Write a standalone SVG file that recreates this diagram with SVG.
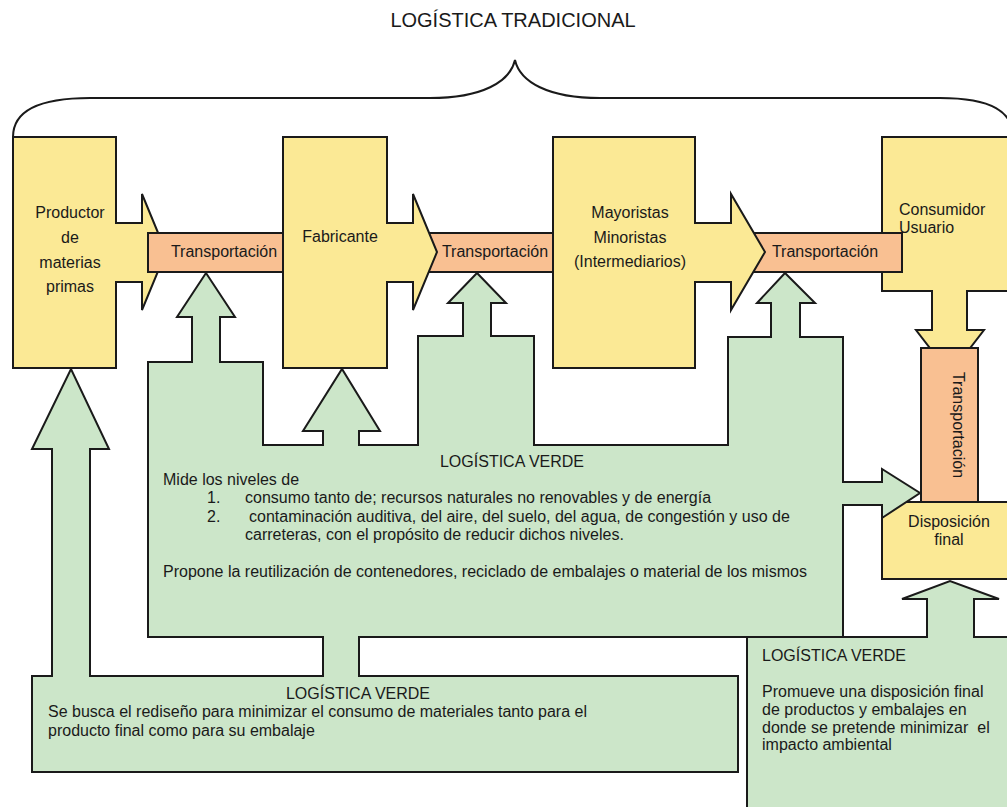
<svg xmlns="http://www.w3.org/2000/svg" width="1007" height="807" viewBox="0 0 1007 807">
<style>
  .y { fill: #FBE995; stroke: #1a1a1a; stroke-width: 2; stroke-linejoin: miter; }
  .o { fill: #F9C092; stroke: #1a1a1a; stroke-width: 2; }
  .g { fill: #CCE6C9; stroke: #1a1a1a; stroke-width: 2; stroke-linejoin: miter; }
  .ln { fill: none; stroke: #1a1a1a; stroke-width: 2; }
  text { font-family: "Liberation Sans", Arial, sans-serif; font-size: 16px; fill: #1a1a1a; }
  .c { text-anchor: middle; }
</style>
<rect x="0" y="0" width="1007" height="807" fill="#ffffff"/>

<g id="titulo">
  <text x="513" y="27" class="c" style="font-size:20px">LOGÍSTICA TRADICIONAL</text>
  <path class="ln" d="M13,137 C13,112 38,98 90,98 L430,98 C482,98 510,82 515,60 C520,82 548,98 600,98 L940,98 C992,98 1013,112 1013,137"/>
</g>

<g id="consumidor">
  <polygon class="y" points="882,137 1012,137 1012,291 967,291 967,330 984,330 950,374 916,330 932,330 932,291 882,291"/>
  <text x="899" y="215">Consumidor</text>
  <text x="899" y="233">Usuario</text>
</g>

<g id="transporte3">
  <rect class="o" x="750" y="233" width="152" height="39"/>
  <text x="825" y="257" class="c">Transportación</text>
</g>

<g id="transporte2">
  <rect class="o" x="425" y="233" width="128" height="39"/>
  <text x="495" y="257" class="c">Transportación</text>
</g>

<g id="productor">
  <polygon class="y" points="13,137 116,137 116,223 142,223 142,194 166,252 142,310 142,282 116,282 116,368 13,368"/>
  <text x="70" y="218" class="c">Productor</text>
  <text x="70" y="243" class="c">de</text>
  <text x="70" y="268" class="c">materias</text>
  <text x="70" y="292" class="c">primas</text>
</g>

<g id="transporte1">
  <rect class="o" x="148" y="233" width="135" height="39"/>
  <text x="224" y="257" class="c">Transportación</text>
</g>

<g id="fabricante">
  <polygon class="y" points="283,137 387,137 387,223 413,223 413,194 437,252 413,310 413,282 387,282 387,368 283,368"/>
  <text x="340" y="242" class="c">Fabricante</text>
</g>

<g id="mayoristas">
  <polygon class="y" points="553,137 695,137 695,223 731,223 731,194 765,252 731,310 731,282 695,282 695,368 553,368"/>
  <text x="630" y="218" class="c">Mayoristas</text>
  <text x="630" y="243" class="c">Minoristas</text>
  <text x="630" y="267" class="c">(Intermediarios)</text>
</g>

<g id="transporte4">
  <rect class="o" x="921" y="348" width="57" height="154"/>
  <text class="c" transform="translate(953,425) rotate(90)" x="0" y="0">Transportación</text>
</g>

<g id="disposicion">
  <rect class="y" x="882" y="502" width="130" height="77"/>
  <text x="949" y="527" class="c">Disposición</text>
  <text x="949" y="545" class="c">final</text>
</g>

<g id="verde-inferior">
  <polygon class="g" points="32,676 52,676 52,449 32,449 71,369 109,449 90,449 90,676 738,676 738,772 32,772"/>
  <text x="358" y="699" class="c">LOGÍSTICA VERDE</text>
  <text x="48" y="717">Se busca el rediseño para minimizar el consumo de materiales tanto para el</text>
  <text x="48" y="736">producto final como para su embalaje</text>
</g>

<g id="verde-central">
  <polygon class="g" points="148,362 192,362 192,317 177,317 206,273 235,317 220,317 220,362 263,362 263,445 323,445 323,431 303,431 342,369 380,431 359,431 359,445 418,445 418,336 463,336 463,303 448,303 477,273 506,303 491,303 491,336 534,336 534,445 728,445 728,337 771,337 771,303 757,303 785,273 815,303 800,303 800,337 843,337 843,482 882,482 882,469 920,493 882,518 882,505 843,505 843,637 148,637"/>
  <text x="512" y="467" class="c">LOGÍSTICA VERDE</text>
  <text x="163" y="485">Mide los niveles de</text>
  <text x="207" y="503">1.</text>
  <text x="245" y="503">consumo tanto de; recursos naturales no renovables y de energía</text>
  <text x="207" y="522">2.</text>
  <text x="249" y="522">contaminación auditiva, del aire, del suelo, del agua, de congestión y uso de</text>
  <text x="245" y="540">carreteras, con el propósito de reducir dichos niveles.</text>
  <text x="163" y="577">Propone la reutilización de contenedores, reciclado de embalajes o material de los mismos</text>
</g>

<g id="verde-derecha">
  <polygon class="g" points="747,637 927,637 927,599 902,599 950,581 999,599 974,599 974,637 1012,637 1012,812 747,812"/>
  <text x="762" y="661">LOGÍSTICA VERDE</text>
  <text x="762" y="697">Promueve una disposición final</text>
  <text x="762" y="715">de productos y embalajes en</text>
  <text x="762" y="733" xml:space="preserve">donde se pretende minimizar  el</text>
  <text x="762" y="750">impacto ambiental</text>
</g>

<g id="conectores">
  <rect x="324" y="636" width="34" height="41" fill="#CCE6C9"/>
  <line class="ln" x1="323" y1="637" x2="323" y2="676"/>
  <line class="ln" x1="359" y1="637" x2="359" y2="676"/>
</g>
</svg>
